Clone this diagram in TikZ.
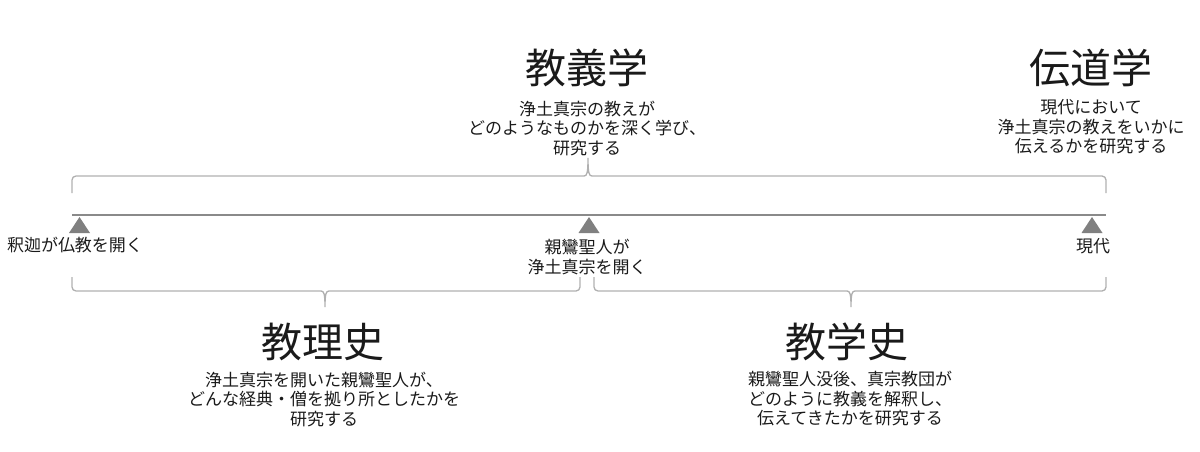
\documentclass[tikz,border=0pt]{standalone}
\usepackage{fontspec}
\setmainfont{Noto Sans CJK JP}
\definecolor{txt}{HTML}{1A1A1A}
\definecolor{axisc}{HTML}{8A8A8A}
\definecolor{bracec}{HTML}{B0B0B0}
\definecolor{markc}{HTML}{808080}
\tikzset{
  title/.style={inner sep=0pt, text=txt, font=\fontsize{41}{45}\selectfont},
  desc/.style={inner sep=0pt, text=txt, align=center, font=\fontsize{17}{19.5}\selectfont},
  brace/.style={draw=bracec, line width=1.3pt, rounded corners=4pt},
  axisline/.style={draw=axisc, line width=2pt},
  marker/.style={fill=markc}
}
\begin{document}
\begin{tikzpicture}[x=1pt,y=-1pt]
\useasboundingbox (0,0) rectangle (1200,452);
% axis
\coordinate (a0) at (72,215);
\coordinate (a1) at (1106,215);
\draw[axisline] (a0) -- (a1);
% markers
\fill[marker] (79.5,217) -- (90,233) -- (69,233) -- cycle;
\fill[marker] (589,217) -- (599.5,233) -- (578.5,233) -- cycle;
\fill[marker] (1092,217) -- (1102.5,233) -- (1081.5,233) -- cycle;
% top brace
\draw[brace] (72,193) -- (72,176) -- (584,176);
\draw[draw=bracec, line width=1.3pt] (584,176) .. controls (587,176) and (588,173) .. (588,158)
  .. controls (588,173) and (589,176) .. (592,176);
\draw[brace] (592,176) -- (1106,176) -- (1106,193);
% bottom left brace
\draw[brace] (72,277) -- (72,291) -- (321,291);
\draw[draw=bracec, line width=1.3pt] (321,291) .. controls (324,291) and (325,294) .. (325,307)
  .. controls (325,294) and (326,291) .. (329,291);
\draw[brace] (329,291) -- (580,291) -- (580,277);
% bottom right brace
\draw[brace] (594,277) -- (594,291) -- (847,291);
\draw[draw=bracec, line width=1.3pt] (847,291) .. controls (850,291) and (851,294) .. (851,307)
  .. controls (851,294) and (852,291) .. (855,291);
\draw[brace] (855,291) -- (1106,291) -- (1106,277);
% titles
\node[title] (t1) at (587,68) {教義学};
\node[desc] (d1) at (587,128.5) {浄土真宗の教えが\\どのようなものかを深く学び、\\研究する};
\node[title] (t2) at (1091,68) {伝道学};
\node[desc] (d2) at (1091,127) {現代において\\浄土真宗の教えをいかに\\伝えるかを研究する};
\node[title] (t3) at (323,342) {教理史};
\node[desc] (d3) at (324,399.5) {浄土真宗を開いた親鸞聖人が、\\どんな経典・僧を拠り所としたかを\\研究する};
\node[title] (t4) at (847,342) {教学史};
\node[desc] (d4) at (850,399) {親鸞聖人没後、真宗教団が\\どのように教義を解釈し、\\伝えてきたかを研究する};
% event labels
\node[desc] (e1) at (75,245) {釈迦が仏教を開く};
\node[desc] (e2) at (587,257) {親鸞聖人が\\浄土真宗を開く};
\node[desc] (e3) at (1093,246) {現代};
\end{tikzpicture}
\end{document}
